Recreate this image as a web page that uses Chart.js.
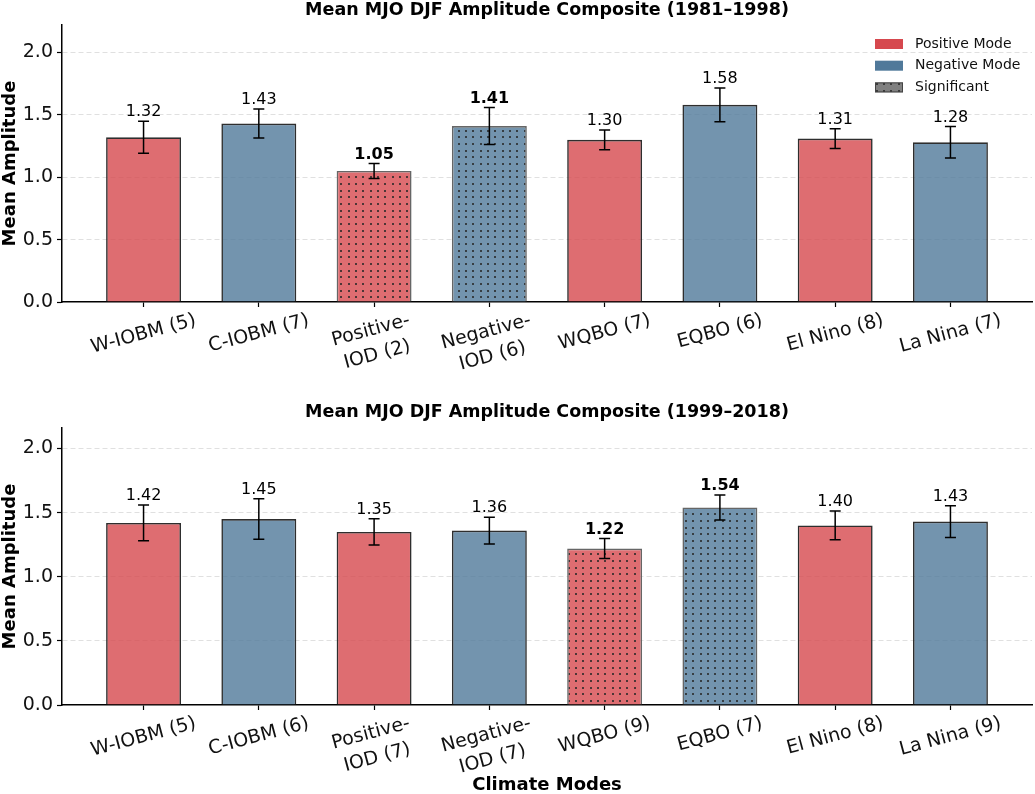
<!DOCTYPE html>
<html><head><meta charset="utf-8">
<script src="https://cdn.jsdelivr.net/npm/chart.js@4.4.0/dist/chart.umd.min.js"></script>
<style>
html,body{margin:0;padding:0;background:#fff;overflow:hidden}
#wrap{position:relative;width:1035px;height:794px;background:#fff}
canvas{position:absolute;left:0}
#c1{top:0}
#c2{top:397px}
</style></head><body>
<div id="wrap">
<canvas id="c1" width="1035" height="397"></canvas>
<canvas id="c2" width="1035" height="397"></canvas>
</div>
<script>
// ---------- data ----------
const titles = ['Mean MJO DJF Amplitude Composite (1981\u20131998)', 'Mean MJO DJF Amplitude Composite (1999\u20132018)'];
const categories1 = ['W-IOBM (5)', 'C-IOBM (7)', 'Positive-\nIOD (2)', 'Negative-\nIOD (6)', 'WQBO (7)', 'EQBO (6)', 'El Nino (8)', 'La Nina (7)'];
const means1 = [1.32, 1.43, 1.05, 1.41, 1.30, 1.58, 1.31, 1.28];
const errors1 = [0.128, 0.116, 0.060, 0.148, 0.079, 0.135, 0.079, 0.126];
const significant1 = [false, false, true, true, false, false, false, false];
const categories2 = ['W-IOBM (5)', 'C-IOBM (6)', 'Positive-\nIOD (7)', 'Negative-\nIOD (7)', 'WQBO (9)', 'EQBO (7)', 'El Nino (8)', 'La Nina (9)'];
const means2 = [1.42, 1.45, 1.35, 1.36, 1.22, 1.54, 1.40, 1.43];
const errors2 = [0.140, 0.158, 0.103, 0.105, 0.078, 0.097, 0.112, 0.123];
const significant2 = [false, false, false, false, true, true, false, false];
const modes = ['positive', 'negative', 'positive', 'negative', 'positive', 'negative', 'positive', 'negative'];
const yTicks = [0, 0.5, 1.0, 1.5, 2.0];
const yMax = [2.22, 2.16];
const legendLabels = ['Positive Mode', 'Negative Mode', 'Significant'];
const yTitle = 'Mean Amplitude';
const xTitle = 'Climate Modes';

// ---------- styles ----------
const FONT = "'DejaVu Sans', sans-serif";
Chart.defaults.font.family = FONT;
const SOLID = {positive: 'rgb(214,72,78)', negative: 'rgb(80,121,154)'};
const BAR = {positive: 'rgba(214,72,78,0.8)', negative: 'rgba(80,121,154,0.8)'};

function dotPattern(color) {
  const c = document.createElement('canvas');
  c.width = 22; c.height = 20;
  const g = c.getContext('2d');
  g.fillStyle = '#fff'; g.fillRect(0, 0, 22, 20);
  g.fillStyle = color; g.fillRect(0, 0, 22, 20);
  g.fillStyle = 'rgba(40,40,40,0.8)';
  [3, 10, 18].forEach(px => [3, 10, 16].forEach(py => g.fillRect(px, py, 2, 2)));
  return g.createPattern(c, 'repeat');
}
const PATTERN = {positive: dotPattern(BAR.positive), negative: dotPattern(BAR.negative)};
const GREY_PATTERN = dotPattern('rgb(128,128,128)');

function overlay(cats, means, errors, sig, withLegend) {
  return {
    id: 'overlay',
    afterDatasetsDraw(chart) {
      const ctx = chart.ctx, y = chart.scales.y;
      const meta = chart.getDatasetMeta(0);
      ctx.save();
      means.forEach((m, i) => {
        const px = meta.data[i].x;
        const top = y.getPixelForValue(m + errors[i]);
        const bot = y.getPixelForValue(m - errors[i]);
        ctx.strokeStyle = '#000'; ctx.lineWidth = 1.5;
        ctx.beginPath();
        ctx.moveTo(px, top); ctx.lineTo(px, bot);
        ctx.moveTo(px - 5.5, top); ctx.lineTo(px + 5.5, top);
        ctx.moveTo(px - 5.5, bot); ctx.lineTo(px + 5.5, bot);
        ctx.stroke();
        ctx.font = (sig[i] ? 'bold ' : '') + '16px ' + FONT;
        ctx.fillStyle = '#000'; ctx.textAlign = 'center'; ctx.textBaseline = 'alphabetic';
        ctx.fillText(m.toFixed(2), px, top - 5);
      });
      ctx.restore();
    },
    afterDraw(chart) {
      const ctx = chart.ctx, x = chart.scales.x, area = chart.chartArea;
      ctx.save();
      ctx.font = '19px ' + FONT;
      ctx.fillStyle = '#111';
      const ang = 15 * Math.PI / 180, lh = 25, hh = 21;
      cats.forEach((lab, i) => {
        const lines = lab.split('\n');
        const W = Math.max(...lines.map(l => ctx.measureText(l).width));
        const H = (lines.length - 1) * lh + hh;
        const bh = W * Math.sin(ang) + H * Math.cos(ang);
        const cx = x.getPixelForValue(i);
        const cy = area.bottom + 8 + bh / 2;
        ctx.save();
        ctx.translate(cx, cy); ctx.rotate(-ang);
        ctx.textAlign = 'center'; ctx.textBaseline = 'middle';
        lines.forEach((l, k) => ctx.fillText(l, 0, (k - (lines.length - 1) / 2) * lh));
        ctx.restore();
      });
      if (withLegend) {
        const bx = area.right - 157;
        const fills = [SOLID.positive, SOLID.negative, GREY_PATTERN];
        legendLabels.forEach((lab, k) => {
          const yc = area.top + 19 + k * 21.7;
          ctx.fillStyle = fills[k];
          ctx.fillRect(bx, yc - 5, 28, 10);
          if (k === 2) { ctx.strokeStyle = '#444'; ctx.lineWidth = 1; ctx.strokeRect(bx + 0.5, yc - 4.5, 27, 9); }
          ctx.fillStyle = '#111';
          ctx.font = '14px ' + FONT;
          ctx.textAlign = 'left'; ctx.textBaseline = 'middle';
          ctx.fillText(lab, bx + 40, yc);
        });
      }
      ctx.restore();
    }
  };
}

function makeChart(id, idx, cats, means, errors, sig) {
  const top = idx === 0;
  return new Chart(document.getElementById(id), {
    type: 'bar',
    data: {
      datasets: [{
        data: means.map((v, i) => ({x: i, y: v})),
        backgroundColor: means.map((v, i) => sig[i] ? PATTERN[modes[i]] : BAR[modes[i]]),
        borderColor: sig.map(s => s ? '#666' : '#2e2e2e'),
        borderWidth: 1.6,
        borderSkipped: 'start',
        barPercentage: 0.65,
        categoryPercentage: 1.0
      }]
    },
    options: {
      responsive: false,
      animation: false,
      events: [],
      layout: {padding: {left: 0, right: 3, top: 0, bottom: 0}},
      plugins: {
        legend: {display: false},
        tooltip: {enabled: false},
        title: {
          display: true, text: titles[idx], fullSize: false, color: '#000',
          font: {size: 17.5, weight: 'bold', family: FONT},
          padding: top ? {top: 0, bottom: 4} : {top: 4.8, bottom: 5.2}
        }
      },
      scales: {
        x: {
          type: 'linear', min: -0.7075, max: 7.7075, offset: false,
          afterBuildTicks: s => { s.ticks = cats.map((c, i) => ({value: i})); },
          afterFit: s => { s.height = top ? 95 : 89; },
          ticks: {display: false},
          grid: {offset: false, drawOnChartArea: false, drawTicks: true, tickLength: 5, tickColor: '#000', tickWidth: 1.2},
          border: {display: true, color: '#000', width: 1.5},
          title: top ? {display: false} : {
            display: true, text: xTitle, color: '#000',
            font: {size: 18, weight: 'bold', family: FONT, lineHeight: 1},
            padding: {top: 0, bottom: 0}
          }
        },
        y: {
          type: 'linear', min: 0, max: yMax[idx],
          afterBuildTicks: s => { s.ticks = yTicks.map(v => ({value: v})); },
          afterFit: s => { s.width = 62; },
          ticks: {font: {size: 19, family: FONT}, color: '#111', padding: 4, callback: v => Number(v).toFixed(1)},
          grid: {
            color: c => (c.tick && c.tick.value === 0) ? 'rgba(0,0,0,0)' : '#dcdcdc',
            lineWidth: 0.9, tickLength: 5, tickColor: '#000', tickWidth: 1.2, tickBorderDash: []
          },
          border: {display: true, color: '#000', width: 1.5, dash: [5, 3]},
          title: {display: true, text: yTitle, color: '#000', font: {size: 18, weight: 'bold', family: FONT}, padding: {top: 0, bottom: 0}}
        }
      }
    },
    plugins: [overlay(cats, means, errors, sig, top)]
  });
}

makeChart('c1', 0, categories1, means1, errors1, significant1);
makeChart('c2', 1, categories2, means2, errors2, significant2);
</script>
</body></html>
